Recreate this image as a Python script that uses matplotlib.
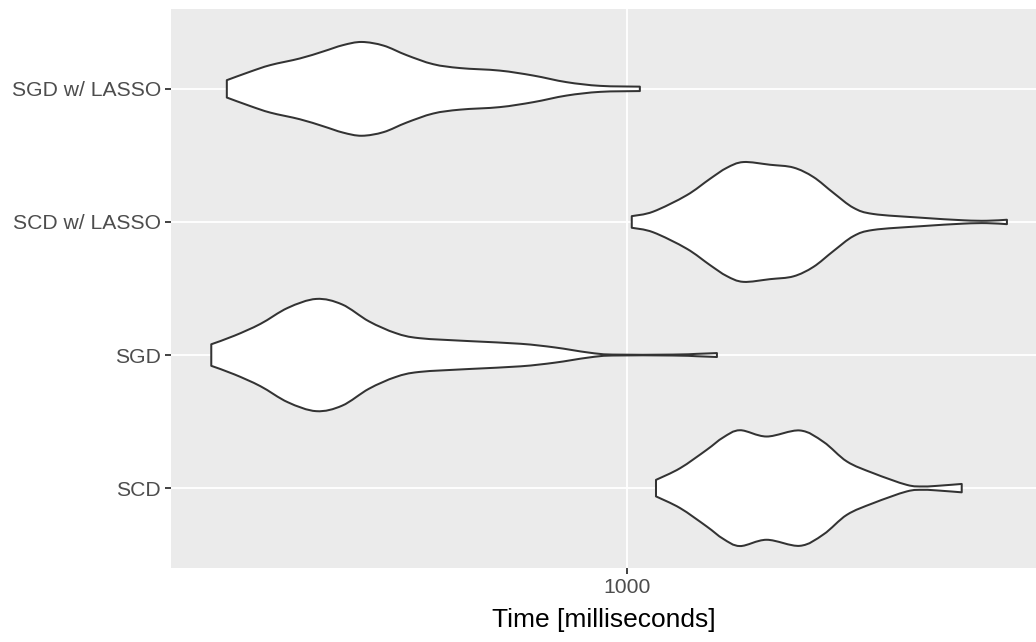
import matplotlib
matplotlib.use("Agg")
import matplotlib.pyplot as plt
from matplotlib.path import Path
from matplotlib.patches import PathPatch
import numpy as np

# Categories (bottom to top)
categories = ["SCD", "SGD", "SCD w/ LASSO", "SGD w/ LASSO"]

# Violin profiles: time [ms] and relative density (max = 1)
scd_time = [1069, 1130, 1201, 1248, 1297, 1379, 1489, 1572, 1659, 1763, 1904, 1979, 2056, 2161]
scd_dens = [0.138, 0.333, 0.638, 0.847, 0.967, 0.862, 0.963, 0.772, 0.445, 0.25, 0.055, 0.028, 0.042, 0.07]

sgd_time = [384, 405, 430, 458, 489, 519, 552, 587, 620, 697, 783, 847, 915, 967, 1112, 1174, 1230]
sgd_dens = [0.18, 0.323, 0.52, 0.788, 0.937, 0.845, 0.563, 0.367, 0.282, 0.232, 0.188, 0.127, 0.042, 0.008, 0.008, 0.02, 0.033]

scdl_time = [1011, 1062, 1147, 1211, 1258, 1307, 1390, 1467, 1536, 1608, 1684, 1763, 1963, 2169, 2289, 2398]
scdl_dens = [0.097, 0.172, 0.445, 0.722, 0.903, 1.0, 0.955, 0.908, 0.75, 0.487, 0.237, 0.133, 0.072, 0.028, 0.02, 0.037]

sgdl_time = [398, 420, 440, 471, 497, 520, 543, 571, 602, 640, 681, 746, 806, 870, 940, 1030]
sgdl_dens = [0.145, 0.287, 0.397, 0.508, 0.625, 0.73, 0.783, 0.722, 0.563, 0.412, 0.347, 0.305, 0.222, 0.112, 0.05, 0.037]

x_ticks = [1000]
x_tick_labels = ["1000"]

profiles = [(scd_time, scd_dens), (sgd_time, sgd_dens),
            (scdl_time, scdl_dens), (sgdl_time, sgdl_dens)]

plt.rcParams['font.family'] = ['Liberation Sans', 'DejaVu Sans']

fig = plt.figure(figsize=(10.36, 6.42), dpi=100)
ax = fig.add_axes([171/1036, 1 - 568/642, 1 - 171/1036, (568 - 9)/642])
ax.set_facecolor("#EBEBEB")

ax.set_xscale("log")
ax.set_xlim(350, 2564)
ax.set_ylim(0.4, 4.6)

# grid
for i in range(len(categories)):
    ax.axhline(i + 1, color="white", lw=1.3, zorder=1)
for t in x_ticks:
    ax.axvline(t, color="white", lw=1.3, zorder=1)


def smooth_segments(px, py):
    """Catmull-Rom -> cubic Bezier control points for an open curve."""
    n = len(px)
    verts = []
    for i in range(n - 1):
        p0 = max(i - 1, 0)
        p3 = min(i + 2, n - 1)
        c1x = px[i] + (px[i + 1] - px[p0]) / 6.0
        c1y = py[i] + (py[i + 1] - py[p0]) / 6.0
        c2x = px[i + 1] - (px[p3] - px[i]) / 6.0
        c2y = py[i + 1] - (py[p3] - py[i]) / 6.0
        verts += [(c1x, c1y), (c2x, c2y), (px[i + 1], py[i + 1])]
    return verts


half_max = 0.45
for i, (t, d) in enumerate(profiles):
    pos = i + 1
    lx = np.log10(np.asarray(t, float))
    d = np.asarray(d, float) * half_max
    top_y = pos + d
    bot_y = pos - d
    verts = [(lx[0], top_y[0])]
    codes = [Path.MOVETO]
    seg = smooth_segments(lx, top_y)
    verts += seg
    codes += [Path.CURVE4] * len(seg)
    verts.append((lx[-1], bot_y[-1]))
    codes.append(Path.LINETO)
    seg = smooth_segments(lx[::-1], bot_y[::-1])
    verts += seg
    codes += [Path.CURVE4] * len(seg)
    verts.append((lx[0], top_y[0]))
    codes.append(Path.CLOSEPOLY)
    verts = np.array(verts)
    verts[:, 0] = 10 ** verts[:, 0]
    patch = PathPatch(Path(verts, codes), facecolor="white", edgecolor="#333333",
                      lw=1.45, zorder=3, joinstyle="round")
    ax.add_patch(patch)

ax.set_yticks(range(1, len(categories) + 1))
ax.set_yticklabels(categories)
ax.set_xticks(x_ticks)
ax.set_xticklabels(x_tick_labels)
ax.xaxis.set_minor_locator(matplotlib.ticker.NullLocator())
ax.tick_params(axis="both", which="major", length=4.3, width=1.3, color="#333333",
               labelsize=15.2, labelcolor="#4D4D4D", pad=3)
for s in ax.spines.values():
    s.set_visible(False)

ax.set_xlabel("Time [milliseconds]", fontsize=19, color="black", labelpad=7.5)

fig.savefig("out.png", dpi=100)
